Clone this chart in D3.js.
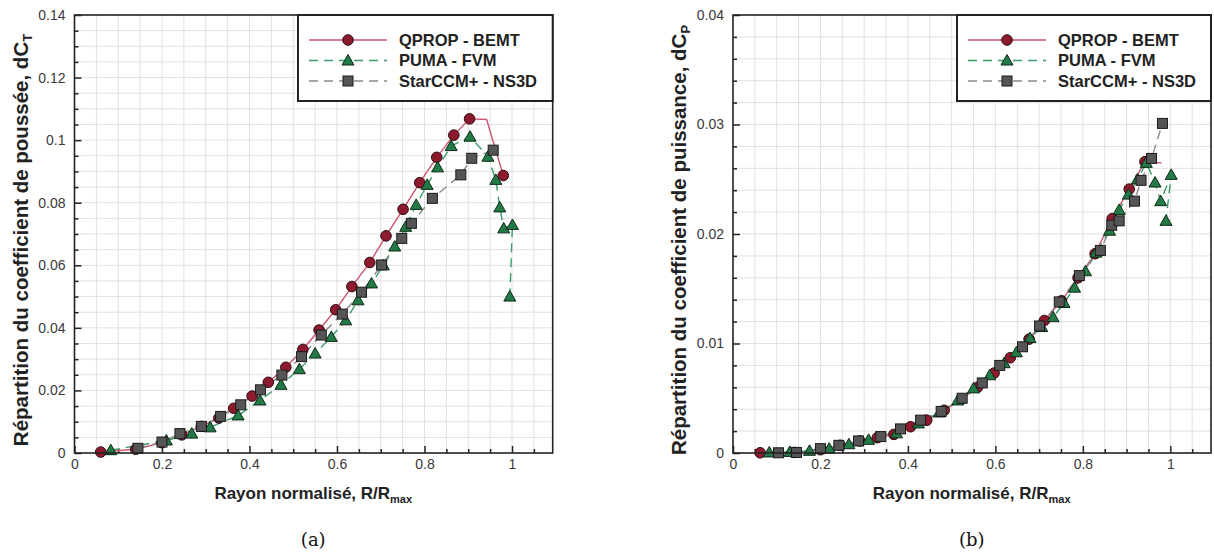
<!DOCTYPE html>
<html><head><meta charset="utf-8">
<script src="https://cdn.jsdelivr.net/npm/d3@7/dist/d3.min.js"></script>
<style>
body{margin:0;background:#fff;}
svg{display:block;font-family:"Liberation Sans",Arial,sans-serif;}
</style></head>
<body><svg id="c" width="1214" height="556"></svg>
<script>
// ---------- data ----------
const xTicks = [0, 0.2, 0.4, 0.6, 0.8, 1];
const thrustTicks = [0, 0.02, 0.04, 0.06, 0.08, 0.1, 0.12, 0.14];
const powerTicks = [0, 0.01, 0.02, 0.03, 0.04];
const seriesNames = ["QPROP - BEMT", "PUMA - FVM", "StarCCM+ - NS3D"];
const captions = ["(a)", "(b)"];
const xTitle = "Rayon normalisé, R/R";
const xTitleSub = "max";
const thrustTitle = "Répartition du coefficient de poussée, dC";
const thrustSub = "T";
const powerTitle = "Répartition du coefficient de puissance, dC";
const powerSub = "P";

// thrust distribution dCT  [r/Rmax, value]
const qpropThrust = [[0.06,0.0003],[0.14,0.0012],[0.2,0.0033],[0.245,0.0058],[0.29,0.0085],[0.33,0.0112],
  [0.364,0.0143],[0.406,0.0182],[0.443,0.0226],[0.483,0.0274],[0.522,0.0331],[0.559,0.0393],[0.597,0.0458],
  [0.634,0.0532],[0.675,0.0609],[0.712,0.0694],[0.751,0.0779],[0.789,0.0864],[0.828,0.0945],[0.867,0.1016],
  [0.903,0.1068],[0.942,0.1066],[0.980,0.0887]];
const qpropThrustNoMarker = [0.942];
const pumaThrust = [[0.083,0.0009],[0.21,0.0040],[0.268,0.0062],[0.31,0.0082],
  [0.374,0.012],[0.424,0.0168],[0.472,0.0218],[0.514,0.0268],[0.55,0.0318],[0.587,0.0371],[0.62,0.0424],
  [0.648,0.0488],[0.679,0.0542],[0.706,0.0600],[0.732,0.066],[0.757,0.0723],[0.781,0.0793],[0.806,0.0857],
  [0.83,0.0913],[0.861,0.0981],[0.904,0.1011],[0.945,0.0947],[0.963,0.0873],[0.972,0.0785],[0.981,0.0718],
  [1.001,0.0729],[0.995,0.0500]];
const starThrust = [[0.145,0.0015],[0.2,0.0035],[0.241,0.0062],[0.29,0.0085],[0.334,0.0117],[0.38,0.0154],
  [0.425,0.0202],[0.474,0.0249],[0.519,0.0308],[0.564,0.0377],[0.612,0.0444],[0.656,0.0514],[0.702,0.0601],
  [0.748,0.0686],[0.77,0.0734],[0.818,0.0814],[0.883,0.0889],[0.908,0.0942],[0.957,0.0968]];

// power distribution dCP  [r/Rmax, value]
const qpropPower = [[0.062,0.00002],[0.14,0.00005],[0.2,0.0003],[0.245,0.0007],[0.29,0.0011],[0.33,0.0014],
  [0.368,0.0017],[0.406,0.0024],[0.443,0.0030],[0.483,0.0039],[0.522,0.0049],[0.559,0.0060],[0.597,0.0073],
  [0.634,0.0087],[0.677,0.0104],[0.712,0.0121],[0.751,0.0139],[0.789,0.0160],[0.828,0.0182],[0.867,0.0214],
  [0.906,0.0241],[0.942,0.0266],[0.980,0.0265]];
const qpropPowerNoMarker = [0.980];
const pumaPower = [[0.083,0.00005],[0.13,0.0001],[0.175,0.0002],[0.22,0.0004],[0.265,0.0008],[0.31,0.0012],
  [0.374,0.0018],[0.424,0.0027],[0.472,0.0037],[0.514,0.0048],[0.55,0.0059],[0.587,0.0071],[0.62,0.0082],
  [0.648,0.0092],[0.679,0.0105],[0.706,0.0115],[0.732,0.0124],[0.757,0.0137],[0.781,0.0151],[0.806,0.0166],
  [0.83,0.0183],[0.861,0.0203],[0.883,0.0222],[0.904,0.0236],[0.925,0.0250],[0.945,0.0265],[0.965,0.0247],
  [0.978,0.0230],[1.002,0.0254],[0.99,0.0212]];
const starPower = [[0.104,0.00002],[0.145,0.00005],[0.2,0.0004],[0.242,0.0007],[0.287,0.0011],[0.338,0.0015],
  [0.383,0.0022],[0.429,0.0030],[0.476,0.0038],[0.524,0.0050],[0.57,0.0064],[0.61,0.0080],[0.662,0.0097],
  [0.701,0.0116],[0.746,0.0138],[0.792,0.0162],[0.84,0.0185],[0.866,0.0208],[0.883,0.0212],[0.918,0.0230],
  [0.933,0.0249],[0.957,0.0269],[0.982,0.0301]];

// ---------- drawing ----------
const svg = d3.select("#c");
const styles = [
  {line:"#c9576f", dash:null, fill:"#8e1a2e", shape:"circle"},
  {line:"#3a9d68", dash:"9,6", fill:"#237a47", shape:"triangle"},
  {line:"#8a8a8a", dash:"9,6", fill:"#555555", shape:"square"}
];

function marker(g, shape, x, y, fill) {
  if (shape === "circle") {
    g.append("circle").attr("cx", x).attr("cy", y).attr("r", 5.3)
      .attr("fill", fill).attr("stroke", "#2a0a10").attr("stroke-width", 1);
  } else if (shape === "triangle") {
    const s = 6;
    g.append("path").attr("d", `M${x},${y - s}L${x + s},${y + s * 0.75}L${x - s},${y + s * 0.75}Z`)
      .attr("fill", fill).attr("stroke", "#0d2a16").attr("stroke-width", 1);
  } else {
    const s = 5;
    g.append("rect").attr("x", x - s).attr("y", y - s).attr("width", 2 * s).attr("height", 2 * s)
      .attr("fill", fill).attr("stroke", "#1a1a1a").attr("stroke-width", 1);
  }
}

function panel(opts) {
  const {x0, x1, y0, y1, yMax, yTicks, yMinorStep, series, noMarker, title, sub, caption, legendX} = opts;
  const xs = d3.scaleLinear().domain([0, 1.093]).range([x0, x1]);
  const ys = d3.scaleLinear().domain([0, yMax]).range([y1, y0]);
  const g = svg.append("g");

  // grid
  const xMinor = d3.range(0.05, 1.093, 0.05);
  const yMinor = d3.range(yMinorStep, yMax - 1e-9, yMinorStep);
  g.selectAll(".gx").data(xMinor).join("line")
    .attr("x1", d => xs(d)).attr("x2", d => xs(d)).attr("y1", y0).attr("y2", y1)
    .attr("stroke", "#e1e1e1").attr("stroke-width", 1);
  g.selectAll(".gy").data(yMinor).join("line")
    .attr("y1", d => ys(d)).attr("y2", d => ys(d)).attr("x1", x0).attr("x2", x1)
    .attr("stroke", "#e1e1e1").attr("stroke-width", 1);

  // axes (ticks inward)
  const fmt = d => String(+d.toFixed(4));
  const ax = g.append("g").attr("transform", `translate(0,${y1})`)
    .call(d3.axisBottom(xs).tickValues(xTicks).tickFormat(fmt).tickSizeInner(-7).tickSizeOuter(0).tickPadding(6));
  const axm = g.append("g").attr("transform", `translate(0,${y1})`)
    .call(d3.axisBottom(xs).tickValues(xMinor.filter(v => !xTicks.some(t => Math.abs(t - v) < 1e-6))).tickFormat("").tickSizeInner(-4).tickSizeOuter(0));
  const ay = g.append("g").attr("transform", `translate(${x0},0)`)
    .call(d3.axisLeft(ys).tickValues(yTicks).tickFormat(fmt).tickSizeInner(-7).tickSizeOuter(0).tickPadding(9));
  const aym = g.append("g").attr("transform", `translate(${x0},0)`)
    .call(d3.axisLeft(ys).tickValues(yMinor.filter(v => !yTicks.some(t => Math.abs(t - v) < 1e-9))).tickFormat("").tickSizeInner(-4).tickSizeOuter(0));
  [ax, axm, ay, aym].forEach(a => {
    a.select(".domain").remove();
    a.selectAll("line").attr("stroke", "#222").attr("stroke-width", 1.5);
    a.selectAll("text").attr("fill", "#3a3a3a").style("font-size", "14px").style("font-family", "'Liberation Sans',Arial,sans-serif");
  });

  // series
  const line = d3.line().x(d => xs(d[0])).y(d => ys(d[1]));
  series.forEach((data, i) => {
    const st = styles[i];
    g.append("path").attr("d", line(data)).attr("fill", "none").attr("stroke", st.line)
      .attr("stroke-width", 1.4).attr("stroke-dasharray", st.dash);
  });
  series.forEach((data, i) => {
    const st = styles[i];
    const mg = g.append("g");
    data.forEach(d => {
      if (i === 0 && noMarker.some(r => Math.abs(r - d[0]) < 1e-9)) return;
      marker(mg, st.shape, xs(d[0]), ys(d[1]), st.fill);
    });
  });

  // frame
  g.append("rect").attr("x", x0).attr("y", y0).attr("width", x1 - x0).attr("height", y1 - y0)
    .attr("fill", "none").attr("stroke", "#222").attr("stroke-width", 1.6);

  // legend
  const lg = g.append("g");
  lg.append("rect").attr("x", legendX).attr("y", y0).attr("width", x1 - legendX).attr("height", 86)
    .attr("fill", "#fff").attr("stroke", "#222").attr("stroke-width", 2);
  seriesNames.forEach((name, i) => {
    const st = styles[i];
    const ly = y0 + 25 + i * 20.5;
    lg.append("line").attr("x1", legendX + 11).attr("x2", legendX + 89).attr("y1", ly).attr("y2", ly)
      .attr("stroke", st.line).attr("stroke-width", 1.4).attr("stroke-dasharray", st.dash);
    marker(lg, st.shape, legendX + 50, ly, st.fill);
    lg.append("text").attr("x", legendX + 101).attr("y", ly).attr("dy", "0.36em")
      .style("font-size", "16.5px").style("font-weight", "bold").attr("fill", "#222").text(name);
  });

  // titles
  const xt = g.append("text").attr("x", (x0 + xs(1)) / 2 + 20).attr("y", 499).attr("text-anchor", "middle")
    .style("font-size", "17px").style("font-weight", "bold").attr("fill", "#222");
  xt.append("tspan").text(xTitle);
  xt.append("tspan").attr("dy", "0.35em").style("font-size", "11px").text(xTitleSub);

  const yt = g.append("text").attr("transform", `translate(${x0 - 54},${(y0 + y1) / 2 + 6}) rotate(-90)`)
    .attr("text-anchor", "middle").attr("dy", "0.35em")
    .style("font-size", "20.5px").style("font-weight", "bold").attr("fill", "#222");
  yt.append("tspan").text(title);
  yt.append("tspan").attr("dy", "0.3em").style("font-size", "13px").text(sub);

  g.append("text").attr("x", (x0 + xs(1)) / 2 + 20).attr("y", 546).attr("text-anchor", "middle")
    .style("font-family", "'DejaVu Serif','Liberation Serif',serif").style("font-size", "18px").attr("fill", "#111")
    .text(caption);
}

panel({x0: 74.5, x1: 552.7, y0: 15, y1: 453, yMax: 0.14, yTicks: thrustTicks, yMinorStep: 0.005,
  series: [qpropThrust, pumaThrust, starThrust], noMarker: qpropThrustNoMarker,
  title: thrustTitle, sub: thrustSub, caption: captions[0], legendX: 298});
panel({x0: 733, x1: 1211, y0: 15, y1: 453, yMax: 0.04, yTicks: powerTicks, yMinorStep: 0.002,
  series: [qpropPower, pumaPower, starPower], noMarker: qpropPowerNoMarker,
  title: powerTitle, sub: powerSub, caption: captions[1], legendX: 957});
</script></body></html>
